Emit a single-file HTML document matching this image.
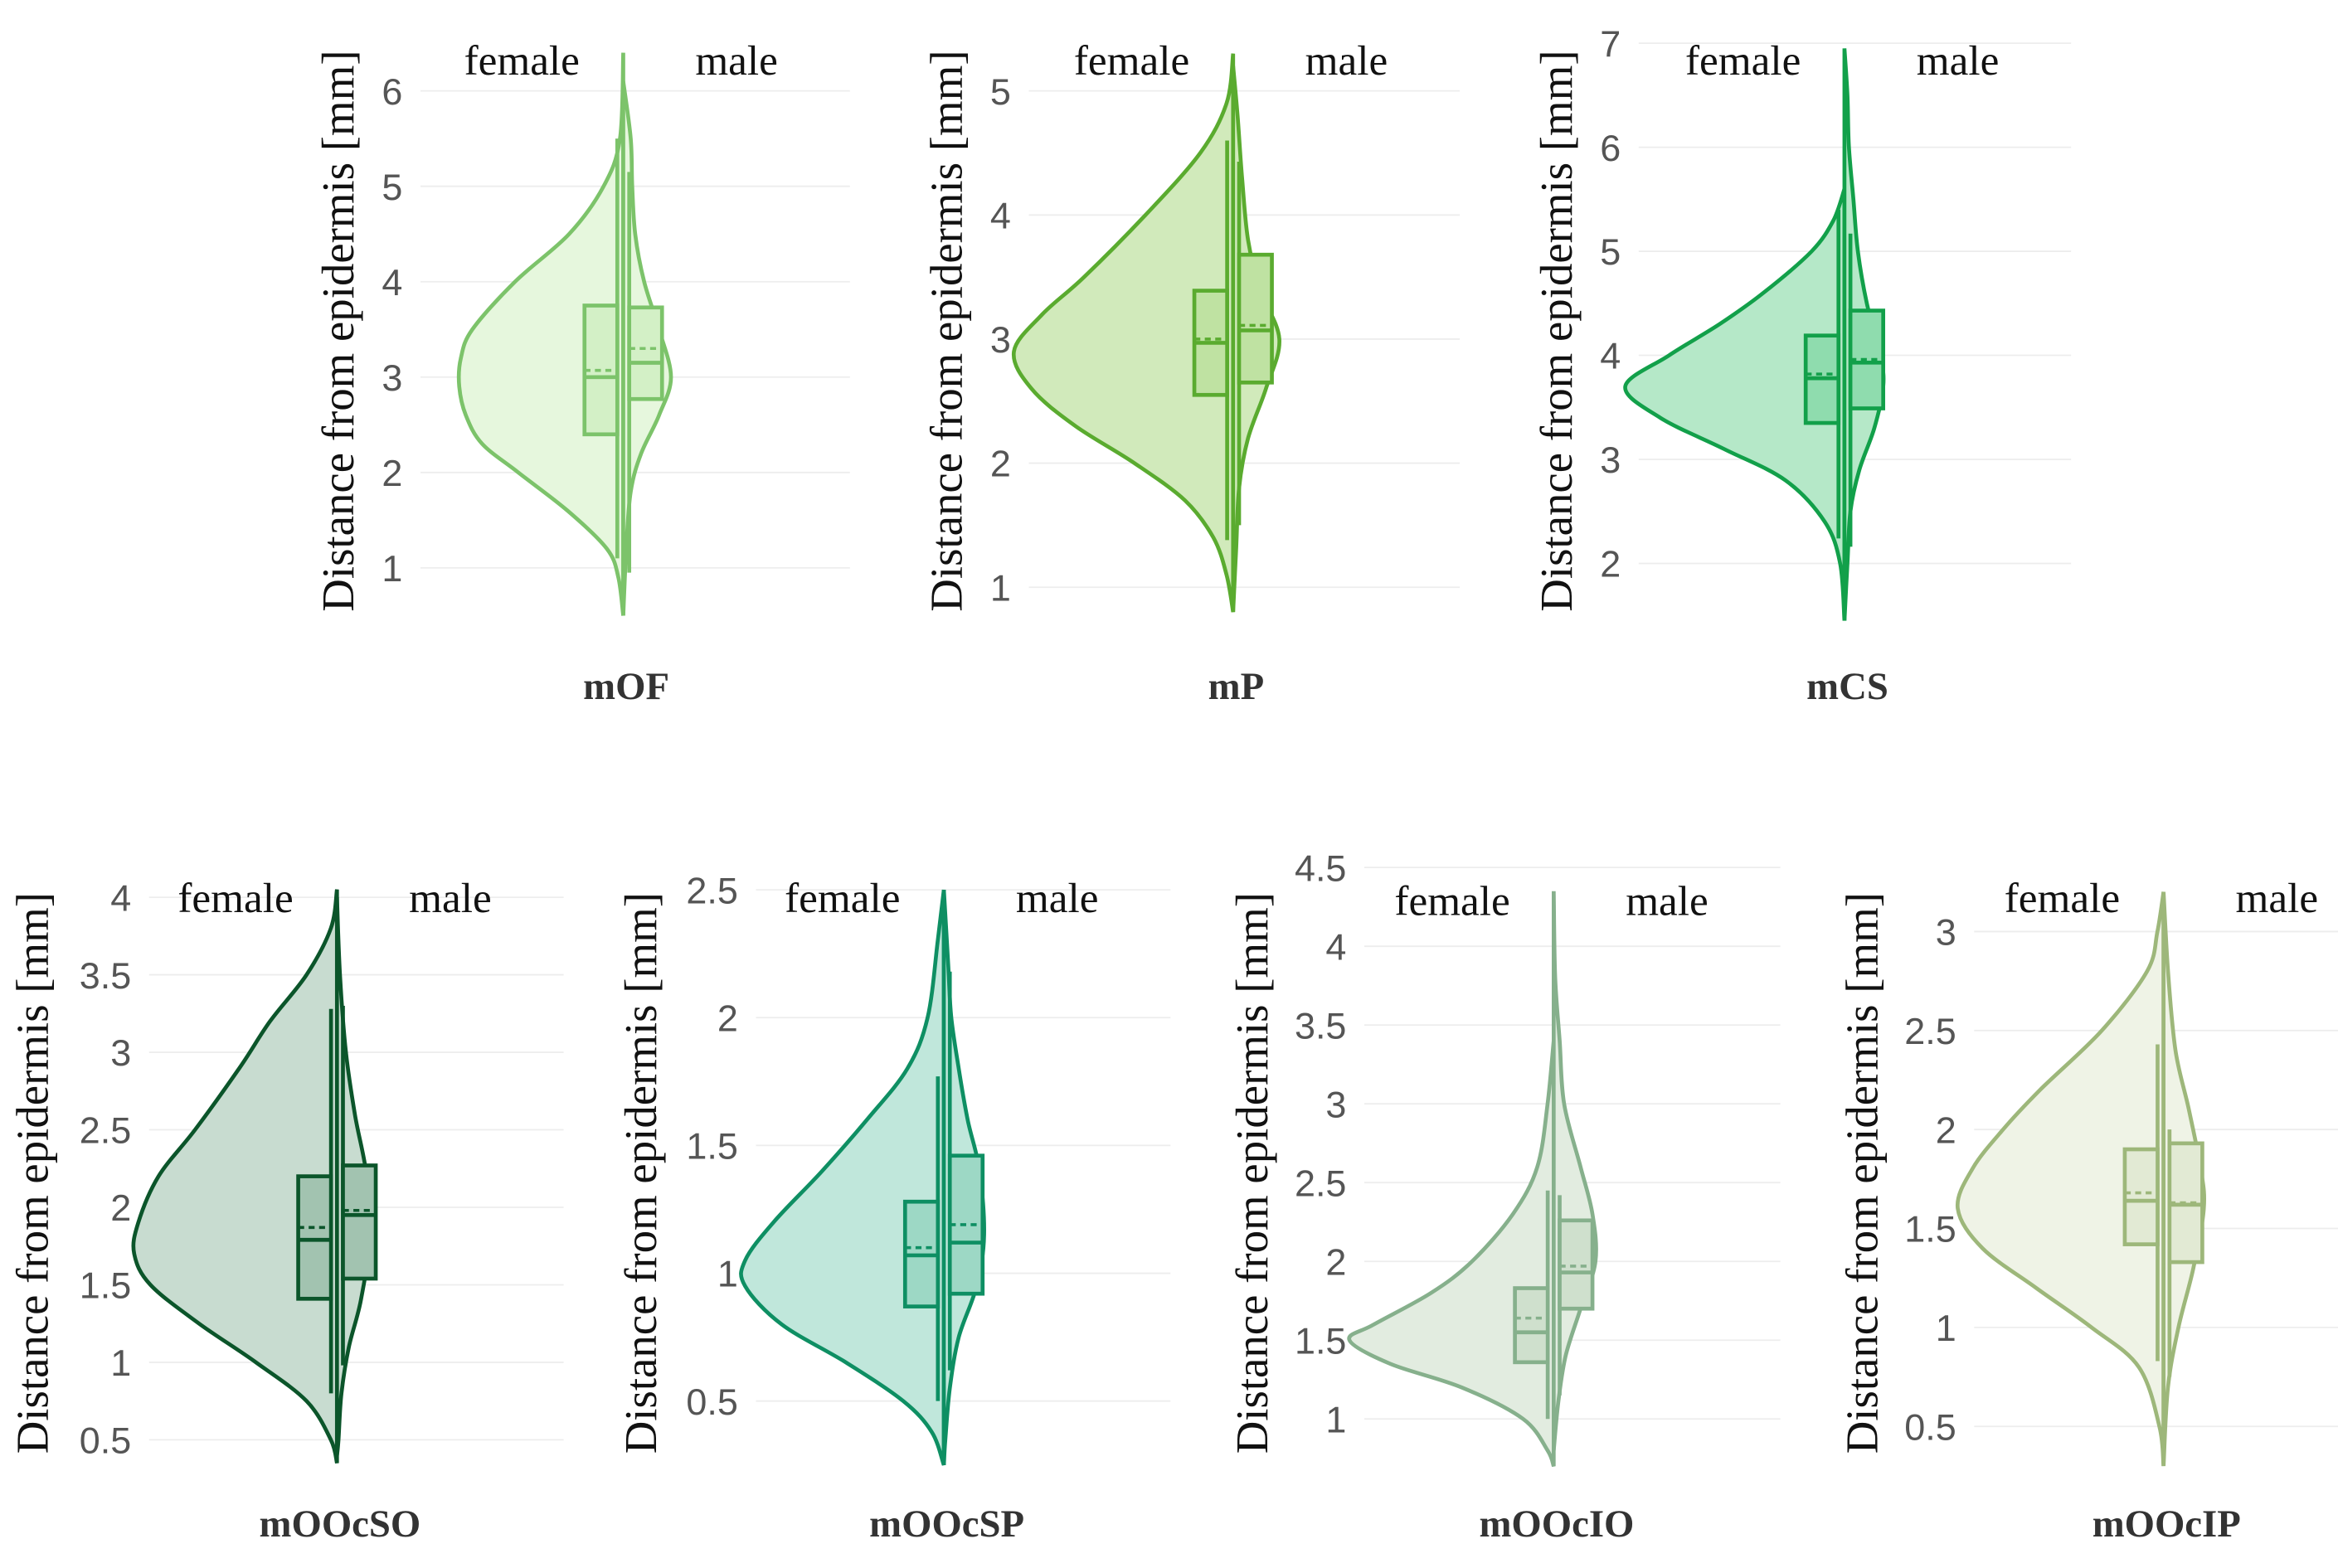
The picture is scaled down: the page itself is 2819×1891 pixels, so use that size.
<!DOCTYPE html>
<html><head><meta charset="utf-8"><style>
html,body{margin:0;padding:0;background:#fff;}
svg{display:block;}
.tick{font-family:"Liberation Sans",sans-serif;font-size:25px;fill:#555;}
.ser{font-family:"Liberation Serif",serif;}
</style></head><body>
<svg id="chart" width="2819" height="1891" viewBox="0 0 1568 1052" preserveAspectRatio="none" xmlns="http://www.w3.org/2000/svg"></svg>
<script>
// panel names
const names = ["mOF","mP","mCS","mOOcSO","mOOcSP","mOOcIO","mOOcIP"];
// tick labels per panel
const ticks0 = [1,2,3,4,5,6];
const ticks1 = [1,2,3,4,5];
const ticks2 = [2,3,4,5,6,7];
const ticks3 = [0.5,1,1.5,2,2.5,3,3.5,4];
const ticks4 = [0.5,1,1.5,2,2.5];
const ticks5 = [1,1.5,2,2.5,3,3.5,4,4.5];
const ticks6 = [0.5,1,1.5,2,2.5,3];
// female density: [value, relative density]
const femDens0 = [[6.4,0],[5.5,2],[5.0,12],[4.5,33],[4.0,66],[3.5,92],[3.2,99],[2.9,100],[2.6,96],[2.3,86],[2.0,64],[1.6,34],[1.2,10],[0.9,3],[0.5,0]];
const femDens1 = [[5.3,0],[4.9,3],[4.5,15],[4.0,40],[3.5,68],[3.2,87],[2.9,100],[2.6,92],[2.3,72],[2.0,45],[1.7,22],[1.4,9],[1.1,3],[0.8,0]];
const femDens2 = [[5.6,0],[5.3,5],[5.0,15],[4.6,37],[4.3,57],[4.0,80],[3.7,100],[3.4,84],[3.1,55],[2.8,27],[2.4,9],[2.0,2],[1.45,0]];
const femDens3 = [[4.05,0],[3.8,3],[3.5,15],[3.2,33],[2.9,48],[2.5,70],[2.2,88],[1.9,98],[1.7,100],[1.5,92],[1.25,68],[1.0,40],[0.75,15],[0.5,3],[0.35,0]];
const femDens4 = [[2.5,0],[2.3,3],[2.0,8],[1.8,18],[1.6,38],[1.4,60],[1.2,84],[1.05,98],[0.95,98],[0.8,80],[0.65,48],[0.5,20],[0.38,6],[0.25,0]];
const femDens5 = [[3.4,0],[3.0,3],[2.6,8],[2.3,20],[2.0,40],[1.8,60],[1.6,88],[1.5,100],[1.35,80],[1.2,45],[1.0,15],[0.8,3],[0.7,0]];
const femDens6 = [[3.2,0],[3.0,3],[2.8,8],[2.5,30],[2.2,60],[2.0,78],[1.8,93],[1.6,100],[1.4,88],[1.2,62],[1.0,35],[0.8,12],[0.5,2],[0.3,0]];
// male density
const malDens0 = [[6.1,0],[5.5,5],[5.0,6],[4.5,8],[4.0,14],[3.5,24],[3.0,32],[2.6,24],[2.2,12],[1.8,5],[1.2,2],[0.5,0]];
const malDens1 = [[5.2,0],[4.8,3],[4.3,6],[3.8,10],[3.4,18],[3.0,31],[2.6,22],[2.2,10],[1.8,4],[1.3,2],[0.8,0]];
const malDens2 = [[6.95,0],[6.5,2],[6.0,3],[5.5,6],[5.0,9],[4.5,15],[4.0,24],[3.7,26],[3.3,20],[2.9,10],[2.5,4],[2.0,2],[1.45,0]];
const malDens3 = [[4.0,0],[3.5,2],[3.0,6],[2.6,12],[2.2,20],[1.8,22],[1.4,16],[1.1,8],[0.8,3],[0.5,1],[0.4,0]];
const malDens4 = [[2.5,0],[2.2,3],[2.0,5],[1.8,10],[1.6,16],[1.4,24],[1.15,27],[0.95,22],[0.75,10],[0.55,4],[0.35,1],[0.25,0]];
const malDens5 = [[4.35,0],[3.8,1],[3.4,4],[3.0,7],[2.6,18],[2.3,26],[2.0,28],[1.7,18],[1.4,8],[1.1,3],[0.8,0]];
const malDens6 = [[3.2,0],[2.8,3],[2.4,8],[2.1,17],[1.8,25],[1.6,27],[1.3,20],[1.0,10],[0.7,3],[0.3,0]];
// box stats [whiskerLow, q1, median, q3, whiskerHigh, mean]
const femBox = [[1.1,2.4,3.0,3.75,5.5,3.07],[1.38,2.55,2.97,3.39,4.6,3.0],[2.24,3.35,3.78,4.19,5.4,3.82],[0.8,1.41,1.79,2.2,3.28,1.87],[0.5,0.87,1.07,1.28,1.77,1.1],[1.0,1.36,1.55,1.83,2.45,1.64],[0.83,1.42,1.64,1.9,2.43,1.68]];
const malBox = [[0.95,2.77,3.15,3.73,5.15,3.3],[1.5,2.65,3.07,3.68,4.43,3.11],[2.16,3.49,3.93,4.43,5.17,3.96],[0.98,1.54,1.95,2.27,3.3,1.98],[0.62,0.92,1.12,1.46,2.18,1.19],[1.15,1.7,1.93,2.26,2.42,1.97],[0.75,1.33,1.62,1.93,2.0,1.63]];

const ticksAll=[ticks0,ticks1,ticks2,ticks3,ticks4,ticks5,ticks6];
const femAll=[femDens0,femDens1,femDens2,femDens3,femDens4,femDens5,femDens6];
const malAll=[malDens0,malDens1,malDens2,malDens3,malDens4,malDens5,malDens6];
const layout=[
 {cx:418,ya:381,va:1,yb:61,vb:6,tr:270,tx:230,ty:222,ly:41,cy:460,fw:110,mw:32,s:"#7cc36a",f:"#e6f7dd",bf:"#d3f0c6"},
 {cx:827,ya:394,va:1,yb:61,vb:5,tr:678,tx:638,ty:222,ly:41,cy:460,fw:147,mw:31,s:"#5aab2f",f:"#d1eabb",bf:"#bfe2a2"},
 {cx:1237,ya:378,va:2,yb:29,vb:7,tr:1087,tx:1047,ty:222,ly:41,cy:460,fw:147,mw:26,s:"#12a04a",f:"#b5e8c8",bf:"#8fdcae"},
 {cx:226,ya:966,va:0.5,yb:602,vb:4,tr:88,tx:25,ty:787,ly:603,cy:1022,fw:136,mw:22,s:"#0b552a",f:"#c8dcd0",bf:"#a2c3b0"},
 {cx:633,ya:940,va:0.5,yb:597,vb:2.5,tr:495,tx:433,ty:787,ly:603,cy:1022,fw:136,mw:27,s:"#0e8f63",f:"#c0e7db",bf:"#9dd8c5"},
 {cx:1042,ya:952,va:1,yb:582,vb:4.5,tr:903,tx:843,ty:787,ly:605,cy:1022,fw:137,mw:28,s:"#86b08c",f:"#e2ece0",bf:"#cfe0cd"},
 {cx:1451,ya:957,va:0.5,yb:625,vb:3,tr:1312,tx:1252,ty:787,ly:603,cy:1022,fw:138,mw:27,s:"#9db77a",f:"#eff3e6",bf:"#e2ead4"}
];
const svg=document.getElementById('chart');
const NS="http://www.w3.org/2000/svg";
function mk(tag,attrs,parent){const e=document.createElementNS(NS,tag);for(const k in attrs)e.setAttribute(k,attrs[k]);parent.appendChild(e);return e;}
function spline(pts){let d="M"+pts[0][0].toFixed(1)+","+pts[0][1].toFixed(1);
 for(let i=0;i<pts.length-1;i++){const p0=pts[Math.max(0,i-1)],p1=pts[i],p2=pts[i+1],p3=pts[Math.min(pts.length-1,i+2)];
  const c1=[p1[0]+(p2[0]-p0[0])/6,p1[1]+(p2[1]-p0[1])/6],c2=[p2[0]-(p3[0]-p1[0])/6,p2[1]-(p3[1]-p1[1])/6];
  d+=" C"+c1[0].toFixed(1)+","+c1[1].toFixed(1)+" "+c2[0].toFixed(1)+","+c2[1].toFixed(1)+" "+p2[0].toFixed(1)+","+p2[1].toFixed(1);}
 return d;}
layout.forEach((L,i)=>{
 const g=mk('g',{},svg);
 
 
 const y=v=>L.ya+(v-L.va)*(L.yb-L.ya)/(L.vb-L.va);
 const gx0=L.tr+12,gx1=L.cx+152;
 ticksAll[i].forEach(t=>{
  const ln=mk('line',{x1:gx0,x2:gx1,y1:y(t),y2:y(t),stroke:"#ededed","stroke-width":1},g);
  
  
  const tx=mk('text',{x:L.tr,y:y(t)+9,"text-anchor":"end",class:"tick"},g);
  tx.textContent=String(t);
  
  
 });
 const title=mk('text',{x:L.tx,y:L.ty,transform:"rotate(-90 "+L.tx+" "+L.ty+")","text-anchor":"middle","dominant-baseline":"middle",class:"ser","font-size":"30.5",fill:"#111"},g);
 title.textContent="Distance from epidermis [mm]";
 
 
 const fl=mk('text',{x:L.cx-68,y:L.ly+9,"text-anchor":"middle",class:"ser","font-size":"28.5",fill:"#111"},g);
 fl.textContent="female";
 
 
 const ml=mk('text',{x:L.cx+76,y:L.ly+9,"text-anchor":"middle",class:"ser","font-size":"28.5",fill:"#111"},g);
 ml.textContent="male";
 
 
 const cl=mk('text',{x:L.cx+2,y:L.cy+9,"text-anchor":"middle",class:"ser","font-size":"26","font-weight":"bold",fill:"#333"},g);
 cl.textContent=names[i];
 
 
 const fp=femAll[i].map(p=>[L.cx-p[1]/100*L.fw,y(p[0])]);
 const fv=mk('path',{d:spline(fp)+" Z",fill:L.f,stroke:L.s,"stroke-width":2.6},g);
 
 
 const mmax=Math.max(...malAll[i].map(p=>p[1]));
 const mp=malAll[i].map(p=>[L.cx+p[1]/mmax*L.mw,y(p[0])]);
 const mv=mk('path',{d:spline(mp)+" Z",fill:L.f,stroke:L.s,"stroke-width":2.6},g);
 
 
 [[femBox[i],-1],[malBox[i],1]].forEach(([b,side])=>{
  const wx=L.cx+side*4, bx0=side<0?L.cx-26:L.cx+4, bw=22;
  const bg=mk('g',{},g);
  
  
  mk('line',{x1:wx,x2:wx,y1:y(b[0]),y2:y(b[4]),stroke:L.s,"stroke-width":2.6},bg);
  mk('rect',{x:bx0,y:y(b[3]),width:bw,height:y(b[1])-y(b[3]),fill:L.bf,stroke:L.s,"stroke-width":2.6},bg);
  mk('line',{x1:bx0,x2:bx0+bw,y1:y(b[2]),y2:y(b[2]),stroke:L.s,"stroke-width":2.6},bg);
  mk('line',{x1:bx0,x2:bx0+bw,y1:y(b[5]),y2:y(b[5]),stroke:L.s,"stroke-width":2,"stroke-dasharray":"4,3"},bg);
 });
});
</script>
</body></html>
